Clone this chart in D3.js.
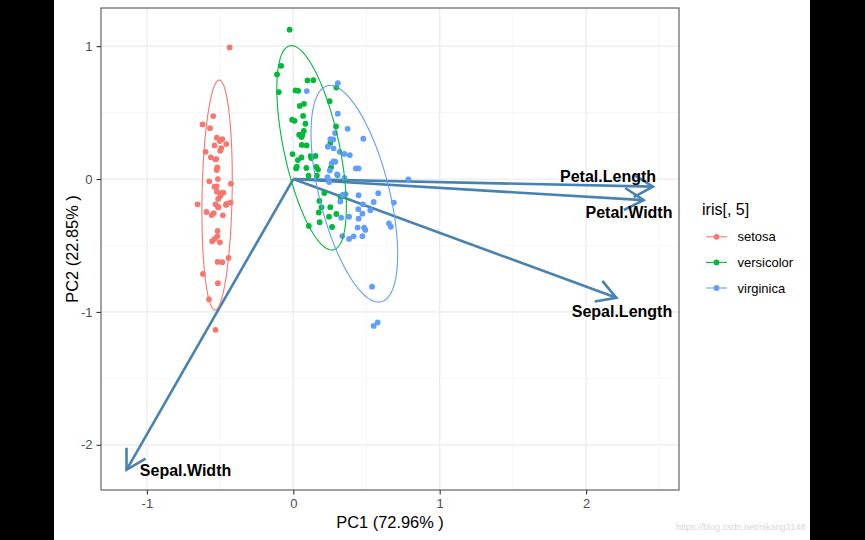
<!DOCTYPE html>
<html><head><meta charset="utf-8">
<script src="https://cdn.jsdelivr.net/npm/d3@7"></script>
<style>body{margin:0;background:#fff}text{font-family:"Liberation Sans",Arial,sans-serif}</style>
</head><body><svg id="c" width="865" height="540"></svg>
<script>
// ---------- data ----------
const species = ["setosa", "versicolor", "virginica"];
const speciesColors = ["#F8766D", "#00BA38", "#619CFF"];

const setosaPC1 = [-0.435,-0.547,-0.620,-0.569,-0.522,-0.485,-0.538,-0.458,-0.499,-0.599,-0.563,-0.533,-0.519,-0.515,-0.574,-0.426,-0.538,-0.522,-0.478,-0.499,-0.654,-0.531,-0.515,-0.456,-0.429,-0.593,-0.558,-0.481,-0.517,-0.519,-0.554,-0.501,-0.442,-0.517,-0.485,-0.617,-0.515,-0.576,-0.531,-0.526,-0.524,-0.487,-0.511,-0.460,-0.543,-0.537,-0.492,-0.513,-0.502,-0.523];
const setosaPC2 = [0.990,0.474,0.411,0.383,0.311,0.301,0.253,0.263,0.213,0.205,0.163,0.148,0.088,0.000,-0.017,-0.035,-0.058,-0.095,-0.103,-0.128,-0.190,-0.190,-0.208,-0.188,-0.178,-0.248,-0.271,-0.273,-0.391,-0.431,-0.468,-0.476,-0.594,-0.624,-0.626,-0.714,-0.784,-0.905,-1.135,0.150,-0.055,-0.105,-0.213,-0.195,-0.256,-0.451,0.233,-0.150,0.286,0.068];

const versicolorPC1 = [-0.025,-0.083,-0.111,-0.099,0.015,0.034,0.097,0.137,0.248,0.073,0.044,0.067,-0.008,0.009,0.083,0.292,0.072,0.040,0.062,0.058,0.091,0.253,-0.005,0.056,0.118,0.152,0.024,0.019,0.089,0.157,0.169,0.258,0.302,0.104,0.161,0.212,0.178,0.323,0.193,0.253,0.294,0.174,0.244,0.180,0.106,0.265,0.294,0.056,0.123,0.031];
const versicolorPC2 = [1.124,0.852,0.787,0.654,0.667,0.664,0.742,0.744,0.586,0.566,0.550,0.475,0.447,0.438,0.416,0.396,0.362,0.334,0.332,0.257,0.253,0.272,0.188,0.162,0.173,0.174,0.094,0.080,0.083,0.092,0.071,0.088,0.030,0.025,0.026,-0.105,-0.165,-0.135,-0.213,-0.212,-0.263,-0.252,-0.283,-0.325,-0.353,-0.361,0.688,0.316,0.158,0.143];

const virginicaPC1 = [0.304,0.092,0.304,0.371,0.478,0.285,0.273,0.236,0.316,0.349,0.386,0.275,0.262,0.427,0.446,0.234,0.245,0.350,0.786,0.357,0.446,0.580,0.321,0.687,0.549,0.526,0.444,0.381,0.327,0.472,0.446,0.653,0.666,0.483,0.439,0.492,0.472,0.412,0.381,0.335,0.538,0.549,0.576,0.287,0.299,0.337,0.476,0.253,0.275,0.249];
const virginicaPC2 = [0.722,0.662,0.492,0.378,0.303,0.346,0.298,0.243,0.205,0.189,0.180,0.133,0.118,0.080,0.080,0.014,-0.023,0.008,-0.002,-0.113,-0.122,-0.107,-0.169,-0.177,-0.173,-0.235,-0.227,-0.284,-0.291,-0.261,-0.298,-0.333,-0.359,-0.365,-0.365,-0.383,-0.430,-0.431,-0.451,-0.429,-0.810,-1.105,-1.079,0.130,0.035,-0.120,-0.190,0.301,0.231,0.064];

// ellipse summaries per species: centre, half-extent in x / y, correlation
const ellipseCX = [-0.5205, 0.125, 0.417];
const ellipseCY = [-0.120, 0.235, -0.111];
const ellipseSX = [0.1036, 0.2375, 0.296];
const ellipseSY = [0.865, 0.769, 0.815];
const ellipseRho = [0.14, -0.58, -0.56];

// variable loadings (arrows)
const varNames = ["Sepal.Length", "Sepal.Width", "Petal.Length", "Petal.Width"];
const varPC1 = [2.207, -1.139, 2.457, 2.393];
const varPC2 = [-0.894, -2.188, -0.057, -0.159];
const labelPC1 = [2.245, -0.736, 2.150, 2.293];
const labelPC2 = [-1.035, -2.233, -0.023, -0.295];

const xTicks = [-1, 0, 1, 2];
const yTicks = [1, 0, -1, -2];
const xMinor = [-0.5, 0.5, 1.5, 2.5];
const yMinor = [0.5, -0.5, -1.5];
const xTitle = "PC1 (72.96% )";
const yTitle = "PC2 (22.85% )";
const legendTitle = "iris[, 5]";

// ---------- drawing ----------
const svg = d3.select("#c");
const P = {l: 101, r: 679, t: 8, b: 490};
const x = d3.scaleLinear().domain([-1.3135, 2.6346]).range([P.l, P.r]);
const y = d3.scaleLinear().domain([-2.340, 1.287]).range([P.b, P.t]);

svg.append("rect").attr("width", 865).attr("height", 540).attr("fill", "#fff");

// grid
const g = svg.append("g");
g.selectAll(".mx").data(xMinor).join("line")
  .attr("x1", d => x(d)).attr("x2", d => x(d)).attr("y1", P.t).attr("y2", P.b)
  .attr("stroke", "#F2F2F2").attr("stroke-width", 0.6);
g.selectAll(".my").data(yMinor).join("line")
  .attr("y1", d => y(d)).attr("y2", d => y(d)).attr("x1", P.l).attr("x2", P.r)
  .attr("stroke", "#F2F2F2").attr("stroke-width", 0.6);
g.selectAll(".Mx").data(xTicks).join("line")
  .attr("x1", d => x(d)).attr("x2", d => x(d)).attr("y1", P.t).attr("y2", P.b)
  .attr("stroke", "#EBEBEB").attr("stroke-width", 1.2);
g.selectAll(".My").data(yTicks).join("line")
  .attr("y1", d => y(d)).attr("y2", d => y(d)).attr("x1", P.l).attr("x2", P.r)
  .attr("stroke", "#EBEBEB").attr("stroke-width", 1.2);

// arrows
const arrowColor = "#4682B4";
const headLen = 22, headAng = Math.PI / 6;
const ag = svg.append("g").attr("stroke", arrowColor).attr("stroke-width", 2.6)
  .attr("fill", "none").attr("stroke-linecap", "butt");
varNames.forEach((n, i) => {
  const x0 = x(0), y0 = y(0), x1 = x(varPC1[i]), y1 = y(varPC2[i]);
  ag.append("line").attr("x1", x0).attr("y1", y0).attr("x2", x1).attr("y2", y1);
  const a = Math.atan2(y1 - y0, x1 - x0);
  const w1 = [x1 - headLen * Math.cos(a - headAng), y1 - headLen * Math.sin(a - headAng)];
  const w2 = [x1 - headLen * Math.cos(a + headAng), y1 - headLen * Math.sin(a + headAng)];
  ag.append("path").attr("d", `M${w1[0]},${w1[1]}L${x1},${y1}L${w2[0]},${w2[1]}`)
    .attr("stroke-linejoin", "miter");
});

// points
const groups = [
  {pc1: setosaPC1, pc2: setosaPC2},
  {pc1: versicolorPC1, pc2: versicolorPC2},
  {pc1: virginicaPC1, pc2: virginicaPC2}
];
groups.forEach((grp, k) => {
  svg.append("g").selectAll("circle").data(grp.pc1.map((v, i) => [v, grp.pc2[i]])).join("circle")
    .attr("cx", d => x(d[0])).attr("cy", d => y(d[1])).attr("r", 2.9)
    .attr("fill", speciesColors[k]);
});

// ellipses
const line = d3.line().x(d => x(d[0])).y(d => y(d[1])).curve(d3.curveLinearClosed);
species.forEach((s, k) => {
  const phi = Math.acos(ellipseRho[k]);
  const pts = d3.range(0, 2 * Math.PI, Math.PI / 90).map(t =>
    [ellipseCX[k] + ellipseSX[k] * Math.cos(t), ellipseCY[k] + ellipseSY[k] * Math.cos(t + phi)]);
  svg.append("path").attr("d", line(pts)).attr("fill", "none")
    .attr("stroke", speciesColors[k]).attr("stroke-width", 1.1);
});

// variable labels
svg.append("g").selectAll("text").data(varNames).join("text")
  .attr("x", (d, i) => x(labelPC1[i])).attr("y", (d, i) => y(labelPC2[i]))
  .attr("text-anchor", "middle").attr("font-size", 16).attr("font-weight", "bold")
  .attr("fill", "#000").text(d => d);

// panel border
svg.append("rect").attr("x", P.l).attr("y", P.t).attr("width", P.r - P.l).attr("height", P.b - P.t)
  .attr("fill", "none").attr("stroke", "#555").attr("stroke-width", 1.1);

// axes
const xAxis = svg.append("g").attr("transform", `translate(0,${P.b})`)
  .call(d3.axisBottom(x).tickValues(xTicks).tickFormat(d => String(d)).tickSize(4.5).tickPadding(4));
const yAxis = svg.append("g").attr("transform", `translate(${P.l},0)`)
  .call(d3.axisLeft(y).tickValues(yTicks).tickFormat(d => String(d)).tickSize(4.5).tickPadding(4));
[xAxis, yAxis].forEach(a => {
  a.select(".domain").remove();
  a.selectAll(".tick line").attr("stroke", "#333").attr("stroke-width", 1.1);
  a.selectAll(".tick text").attr("fill", "#4D4D4D").attr("font-size", 13)
    .attr("font-family", "'Liberation Sans', Arial, sans-serif");
});

// axis titles
svg.append("text").attr("x", (P.l + P.r) / 2).attr("y", 528).attr("text-anchor", "middle")
  .attr("font-size", 16.4).attr("fill", "#000").text(xTitle);
svg.append("text").attr("transform", `translate(78,${(P.t + P.b) / 2}) rotate(-90)`)
  .attr("text-anchor", "middle").attr("font-size", 16.4).attr("fill", "#000").text(yTitle);

// legend
const lg = svg.append("g");
lg.append("text").attr("x", 702).attr("y", 215).attr("font-size", 16).attr("fill", "#000").text(legendTitle);
species.forEach((s, k) => {
  const yy = 236.8 + k * 25.6;
  lg.append("line").attr("x1", 706).attr("x2", 727).attr("y1", yy).attr("y2", yy)
    .attr("stroke", speciesColors[k]).attr("stroke-width", 1.1);
  lg.append("circle").attr("cx", 716.5).attr("cy", yy).attr("r", 2.9).attr("fill", speciesColors[k]);
  lg.append("text").attr("x", 737.5).attr("y", yy + 4.6).attr("font-size", 13).attr("fill", "#000").text(s);
});

// watermark
svg.append("text").attr("x", 676).attr("y", 530).attr("font-size", 9).attr("fill", "#D8D8D8")
  .text("https://blog.csdn.net/nikang3148");

// black side bands
svg.append("rect").attr("x", 0).attr("y", 0).attr("width", 54).attr("height", 540).attr("fill", "#000");
svg.append("rect").attr("x", 810).attr("y", 0).attr("width", 55).attr("height", 540).attr("fill", "#000");
</script></body></html>
